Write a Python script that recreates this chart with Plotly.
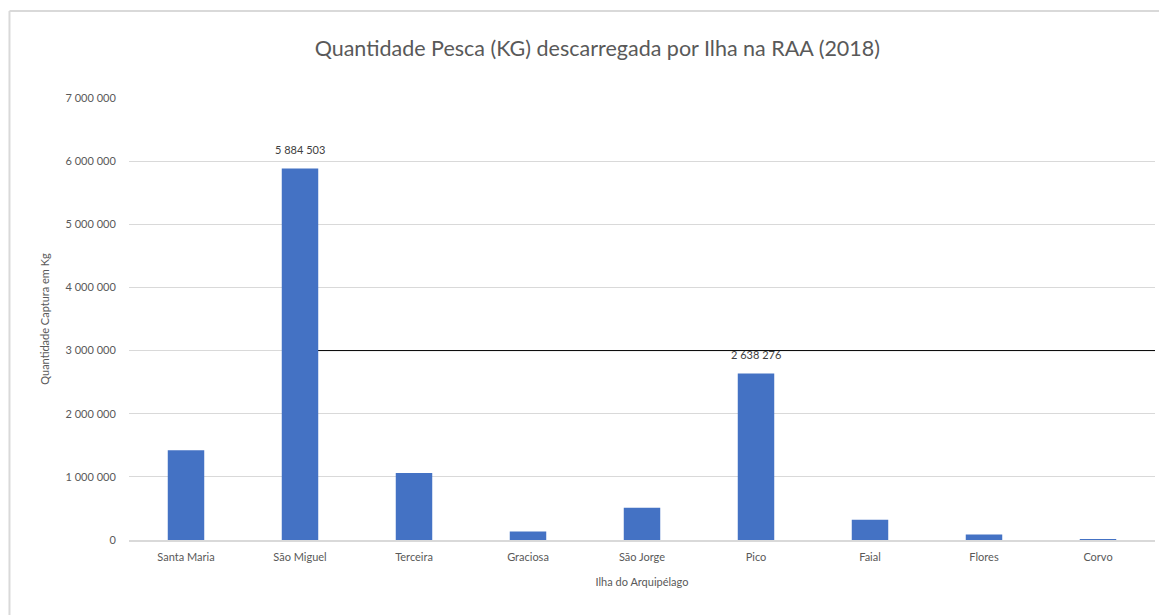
import plotly.graph_objects as go

ilhas = ["Santa Maria", "São Miguel", "Terceira", "Graciosa", "São Jorge",
         "Pico", "Faial", "Flores", "Corvo"]
captura_kg = [1420000, 5884503, 1060000, 135000, 510000, 2638276, 320000, 87000, 10000]
rotulos = ["", "5 884 503", "", "", "", "2 638 276", "", "", ""]
tick_vals = [0, 1000000, 2000000, 3000000, 4000000, 5000000, 6000000, 7000000]
tick_text = ["0", "1 000 000", "2 000 000", "3 000 000", "4 000 000",
             "5 000 000", "6 000 000", "7 000 000"]
linha_ref = 3000000

FONT = "Lato, Carlito, Calibri, sans-serif"

fig = go.Figure()
fig.add_trace(go.Bar(
    x=ilhas, y=captura_kg,
    marker=dict(color="#4472C4", line=dict(width=0)),
    width=0.32,
    hoverinfo="x+y",
))

for ilha, valor, rot in zip(ilhas, captura_kg, rotulos):
    if rot:
        fig.add_annotation(x=ilha, y=valor, xref="x", yref="y", text=rot,
                           showarrow=False, yanchor="middle", yshift=19,
                           font=dict(family=FONT, size=11, color="#404040"))

fig.add_shape(type="line", xref="x", yref="y", x0=1, x1=8.5,
              y0=linha_ref, y1=linha_ref,
              line=dict(color="#000000", width=1), layer="between")

# outer chart border (left and top visible)
fig.add_shape(type="line", xref="paper", yref="paper",
              x0=-0.1165, x1=-0.1165, y0=-0.2, y1=1.197,
              line=dict(color="#D9D9D9", width=2), layer="above")
fig.add_shape(type="line", xref="paper", yref="paper",
              x0=-0.1165, x1=1.03, y0=1.197, y1=1.197,
              line=dict(color="#D9D9D9", width=2), layer="above")

fig.update_layout(
    width=1167, height=615,
    margin=dict(l=121, r=20, t=90, b=83),
    paper_bgcolor="white", plot_bgcolor="white",
    font=dict(family=FONT, color="#595959"),
    title=dict(text="Quantidade Pesca (KG) descarregada por Ilha na RAA (2018)",
               x=0.505, xanchor="center", y=0.935, yanchor="middle",
               font=dict(family=FONT, size=21.5, color="#595959")),
    showlegend=False,
)
fig.update_xaxes(
    title=dict(text="Ilha do Arquipélago", font=dict(family=FONT, size=11, color="#595959"),
               standoff=16),
    tickfont=dict(family=FONT, size=11, color="#595959"),
    showline=True, linecolor="#D9D9D9", linewidth=1.5,
    ticks="outside", ticklen=6, tickcolor="rgba(0,0,0,0)",
    showgrid=False, range=[-0.5, 8.5],
)
fig.update_yaxes(
    title=dict(text="Quantidade Captura em Kg", font=dict(family=FONT, size=11, color="#595959"),
               standoff=13),
    tickvals=tick_vals, ticktext=tick_text,
    tickfont=dict(family=FONT, size=11, color="#595959"),
    range=[0, 7000000], showgrid=True, gridcolor="#D9D9D9", gridwidth=1,
    zeroline=False, showline=False,
    ticks="outside", ticklen=10, tickcolor="rgba(0,0,0,0)",
)

fig.write_html("out.html")
